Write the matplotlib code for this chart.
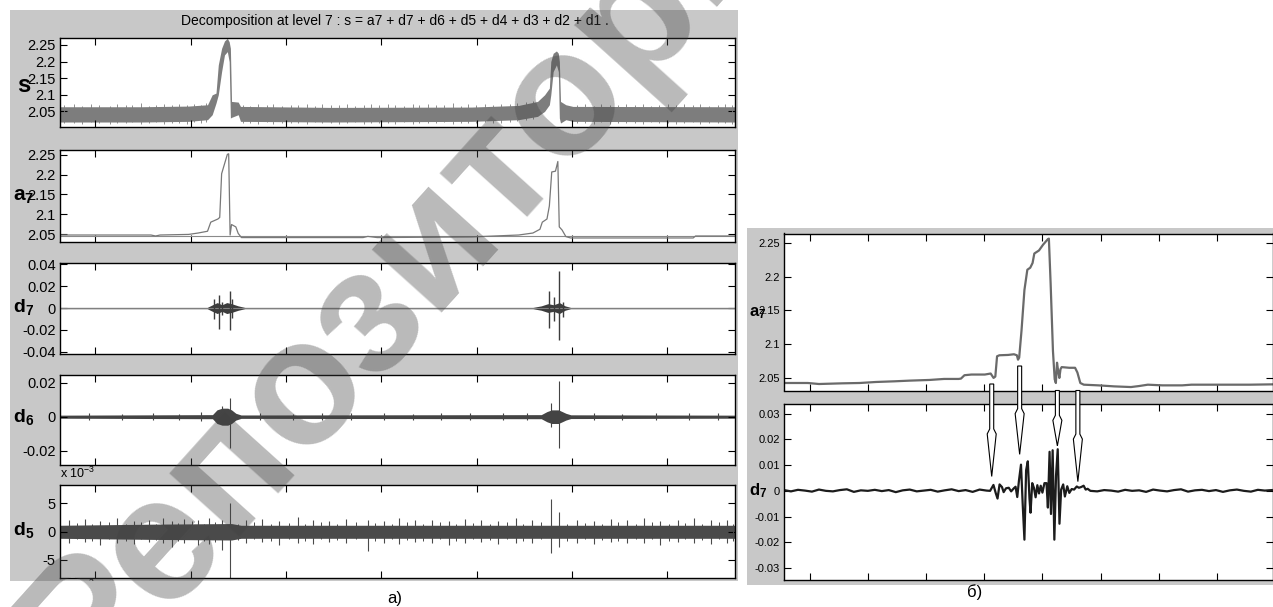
import matplotlib
matplotlib.use("Agg")
import matplotlib.pyplot as plt
import numpy as np
from matplotlib.patches import Rectangle, Polygon

W, H = 1273, 607
plt.rcParams['font.family'] = ['Liberation Sans Narrow', 'Liberation Sans', 'DejaVu Sans']
plt.rcParams['mathtext.fontset'] = 'custom'
plt.rcParams['mathtext.rm'] = 'Liberation Sans'
plt.rcParams['mathtext.bf'] = 'Liberation Sans:bold'
plt.rcParams['mathtext.it'] = 'Liberation Sans:italic'
plt.rcParams['mathtext.sf'] = 'Liberation Sans'

# ---------------- panel a) : level-7 decomposition (sample index) ----------------
title = "Decomposition at level 7 : s = a7 + d7 + d6 + d5 + d4 + d3 + d2 + d1 ."
left_xlim = (0, 7083)
left_xticks = [371, 1371, 2371, 3371, 4371, 5371, 6371]

# s : noisy signal drawn as its envelope band + isolated spikes
s_x = [0, 855, 1350, 1548, 1597, 1637, 1661, 1696, 1726, 1756, 1775, 1788, 1800, 1870, 1894,
       2834, 4319, 4813, 5011, 5085, 5135, 5150, 5175, 5209, 5229, 5240, 5252, 5308, 5382, 7083]
s_lo = [2.018, 2.018, 2.020, 2.025, 2.040, 2.075, 2.100, 2.170, 2.220, 2.230, 2.200, 2.030, 2.032, 2.040, 2.020,
        2.018, 2.020, 2.025, 2.035, 2.050, 2.070, 2.100, 2.170, 2.190, 2.170, 2.030, 2.015, 2.025, 2.020, 2.018]
s_hi = [2.064, 2.064, 2.066, 2.070, 2.100, 2.105, 2.190, 2.240, 2.262, 2.270, 2.260, 2.240, 2.080, 2.078, 2.065,
        2.062, 2.063, 2.068, 2.080, 2.100, 2.120, 2.200, 2.225, 2.232, 2.225, 2.200, 2.080, 2.070, 2.065, 2.064]
s_spk_x = [40, 150, 230, 330, 410, 520, 600, 690, 760, 850,
           930, 1010, 1090, 1180, 1250, 1330, 1410, 1480, 1530, 1920,
           1990, 2080, 2170, 2240, 2330, 2420, 2500, 2590, 2680, 2750,
           2840, 2930, 3010, 3100, 3190, 3260, 3350, 3440, 3520, 3610,
           3700, 3770, 3860, 3950, 4030, 4120, 4210, 4280, 4370, 4460,
           4540, 4630, 4720, 4800, 4890, 4960, 5420, 5510, 5600, 5680,
           5770, 5860, 5940, 6030, 6120, 6200, 6290, 6380, 6460, 6550,
           6640, 6720, 6810, 6900, 6980, 7050]
s_spk_hi = [2.068, 2.071, 2.067, 2.073, 2.069, 2.066, 2.072, 2.070, 2.068, 2.074,
            2.067, 2.070, 2.072, 2.069, 2.071, 2.068, 2.073, 2.070, 2.076, 2.069,
            2.067, 2.071, 2.068, 2.072, 2.066, 2.070, 2.069, 2.073, 2.067, 2.071,
            2.068, 2.070, 2.072, 2.066, 2.069, 2.071, 2.068, 2.073, 2.070, 2.067,
            2.072, 2.069, 2.071, 2.068, 2.070, 2.074, 2.067, 2.071, 2.069, 2.072,
            2.070, 2.073, 2.071, 2.075, 2.078, 2.082, 2.069, 2.071, 2.067, 2.072,
            2.070, 2.068, 2.073, 2.069, 2.071, 2.067, 2.070, 2.072, 2.068, 2.071,
            2.069, 2.073, 2.067, 2.070, 2.072, 2.068]
s_spk_lo = [2.014, 2.016, 2.013, 2.017, 2.015, 2.012, 2.016, 2.014, 2.017, 2.013,
            2.015, 2.017, 2.012, 2.016, 2.014, 2.013, 2.017, 2.015, 2.018, 2.014,
            2.016, 2.013, 2.017, 2.012, 2.015, 2.016, 2.014, 2.013, 2.017, 2.015,
            2.016, 2.012, 2.014, 2.017, 2.013, 2.015, 2.016, 2.014, 2.012, 2.017,
            2.013, 2.015, 2.016, 2.014, 2.017, 2.013, 2.015, 2.016, 2.014, 2.017,
            2.015, 2.016, 2.018, 2.020, 2.024, 2.028, 2.014, 2.016, 2.013, 2.017,
            2.012, 2.015, 2.016, 2.014, 2.013, 2.017, 2.015, 2.016, 2.012, 2.014,
            2.017, 2.013, 2.015, 2.016, 2.014, 2.013]

# a7 : approximation
a7_x = [0, 954, 1003, 1050, 1350, 1449, 1548, 1582, 1657, 1676,
        1696, 1721, 1756, 1770, 1785, 1800, 1845, 1870, 1904, 3180,
        3230, 3329, 4319, 4813, 4962, 5036, 5061, 5110, 5135, 5160,
        5199, 5224, 5239, 5269, 5308, 5358, 6644, 6669, 7083]
a7_y = [2.0475, 2.0475, 2.045, 2.0475, 2.049, 2.0525, 2.057, 2.080, 2.088, 2.092,
        2.2025, 2.223, 2.2515, 2.253, 2.0475, 2.074, 2.068, 2.0515, 2.041, 2.041,
        2.044, 2.041, 2.0426, 2.0475, 2.0525, 2.062, 2.080, 2.088, 2.121, 2.207,
        2.209, 2.2335, 2.068, 2.060, 2.0435, 2.040, 2.040, 2.045, 2.045]
a7_level = 2.046

# d7 : envelope amplitude + spikes
d7_env_x = [0, 1545, 1600, 1650, 1700, 1750, 1800, 1870, 1940, 4962, 5050, 5120, 5180, 5240, 5300, 5358, 7083]
d7_env_amp = [0.0006, 0.0006, 0.003, 0.005, 0.003, 0.005, 0.004, 0.002, 0.0006,
              0.0006, 0.002, 0.004, 0.003, 0.005, 0.002, 0.0006, 0.0006]
d7_spk_x = [1620, 1671, 1700, 1785, 1810, 5135, 5185, 5234, 5283]
d7_spk_hi = [0.008, 0.012, 0.006, 0.016, 0.008, 0.016, 0.010, 0.034, 0.006]
d7_spk_lo = [-0.010, -0.019, -0.006, -0.020, -0.009, -0.018, -0.012, -0.029, -0.008]

# d6
d6_env_x = [0, 1600, 1647, 1700, 1760, 1800, 1845, 1900, 5050, 5110, 5160, 5230, 5270, 5308, 5360, 7083]
d6_env_amp = [0.0009, 0.0012, 0.004, 0.005, 0.005, 0.004, 0.002, 0.001,
              0.0012, 0.003, 0.004, 0.004, 0.003, 0.002, 0.0011, 0.0009]
d6_spk_x = [300, 650, 980, 1250, 1480, 1696, 1785, 2100, 2450, 2750,
            3050, 3400, 3700, 4000, 4300, 4650, 4900, 5150, 5234, 5600,
            5900, 6250, 6600, 6900]
d6_spk_hi = [0.0020, 0.0018, 0.0022, 0.0017, 0.0025, 0.0060, 0.0110, 0.0021, 0.0018, 0.0022,
             0.0019, 0.0020, 0.0018, 0.0021, 0.0019, 0.0020, 0.0022, 0.0080, 0.0210, 0.0020,
             0.0018, 0.0021, 0.0019, 0.0020]
d6_spk_lo = [-0.0018, -0.0022, -0.0017, -0.0020, -0.0024, -0.0040, -0.0185, -0.0019, -0.0021, -0.0018,
             -0.0022, -0.0019, -0.0020, -0.0018, -0.0021, -0.0019, -0.0020, -0.0060, -0.0185, -0.0019,
             -0.0021, -0.0018, -0.0020, -0.0019]

# d5 (units of 1e-3)
d5_env_x = [0, 1000, 1800, 1900, 7083]
d5_env_hi = [1.1, 1.3, 1.4, 1.1, 1.1]
d5_env_lo = [-1.2, -1.4, -1.5, -1.2, -1.2]
d5_spk_x = [90, 260, 420, 600, 780, 930, 1080, 1177, 1300, 1450,
            1560, 1696, 1783, 1950, 2120, 2300, 2497, 2650, 2820, 3000,
            3229, 3400, 3560, 3720, 3900, 4080, 4250, 4420, 4600, 4780,
            4950, 5150, 5234, 5420, 5600, 5780, 5950, 6130, 6300, 6480,
            6650, 6830, 7000]
d5_spk_hi = [2.0, 2.2, 1.8, 2.3, 1.9, 2.1, 2.4, 1.9, 2.2, 2.0,
             2.3, 2.1, 5.0, 2.0, 2.2, 1.9, 2.6, 2.1, 1.8, 2.2,
             2.0, 1.9, 2.3, 2.0, 2.1, 1.8, 2.2, 2.0, 1.9, 2.3,
             2.0, 5.8, 3.4, 2.1, 1.9, 2.2, 2.0, 2.4, 1.9, 2.1,
             2.3, 2.0, 2.1]
d5_spk_lo = [-2.1, -1.9, -2.3, -2.0, -2.2, -1.8, -2.1, -2.8, -2.0, -2.4,
             -2.2, -3.2, -9.0, -2.1, -1.9, -2.3, -2.0, -2.2, -1.9, -2.1,
             -3.4, -2.0, -2.2, -1.9, -2.1, -2.3, -2.0, -1.8, -2.2, -2.0,
             -2.1, -3.8, -2.7, -2.0, -2.2, -1.9, -2.1, -2.0, -2.3, -1.9,
             -2.1, -2.2, -2.0]
d5_spk2_x = [175, 340, 510, 690, 855, 1005, 1240, 1380, 1510, 1630,
             1870, 2040, 2210, 2400, 2570, 2740, 2910, 3110, 3310, 3480,
             3640, 3810, 3990, 4160, 4330, 4510, 4690, 4860, 5050, 5320,
             5510, 5690, 5860, 6040, 6210, 6390, 6560, 6740, 6920, 7060]
d5_spk2_hi = [1.5, 1.3, 1.7, 1.4, 1.6, 1.3, 1.5, 1.8, 1.4, 1.7,
              1.3, 1.6, 1.4, 1.5, 1.3, 1.7, 1.4, 1.6, 1.5, 1.3,
              1.7, 1.4, 1.6, 1.3, 1.5, 1.4, 1.7, 1.3, 1.6, 1.4,
              1.5, 1.3, 1.6, 1.4, 1.7, 1.3, 1.5, 1.4, 1.6, 1.3]
d5_spk2_lo = [-1.4, -1.6, -1.3, -1.7, -1.4, -1.5, -1.7, -1.4, -1.6, -1.8,
              -1.5, -1.3, -1.6, -1.4, -1.7, -1.3, -1.5, -1.4, -1.6, -1.3,
              -1.5, -1.7, -1.4, -1.6, -1.3, -1.5, -1.4, -1.7, -1.4, -1.6,
              -1.3, -1.5, -1.7, -1.4, -1.3, -1.6, -1.4, -1.5, -1.3, -1.6]

# ---------------- panel б) : zoom on one pulse ----------------
right_xlim = (0, 840)
right_xticks = [44, 144, 244, 344, 444, 544, 644, 744]
ar_x = [0, 41, 60, 100, 130, 158, 190, 216, 250, 275,
        300, 304, 310, 322, 345, 355, 360, 363, 366, 370,
        385, 395, 400, 402, 404, 408, 413, 418, 423, 427,
        430, 438, 445, 453, 455, 458, 462, 465, 467, 469,
        471, 473, 475, 477, 490, 500, 504, 509, 515, 540,
        567, 596, 610, 625, 650, 684, 700, 742, 800, 840]
ar_y = [2.0425, 2.0425, 2.041, 2.042, 2.0425, 2.044, 2.045, 2.046, 2.047, 2.0485,
        2.0485, 2.049, 2.054, 2.055, 2.055, 2.0565, 2.050, 2.052, 2.082, 2.0835,
        2.084, 2.085, 2.0835, 2.077, 2.080, 2.120, 2.180, 2.210, 2.213, 2.220,
        2.234, 2.2385, 2.247, 2.255, 2.256, 2.190, 2.090, 2.048, 2.0425, 2.0725,
        2.060, 2.050, 2.063, 2.066, 2.065, 2.065, 2.058, 2.0425, 2.040, 2.039,
        2.0375, 2.0365, 2.038, 2.040, 2.039, 2.039, 2.040, 2.040, 2.040, 2.0405]
dr_x = [0, 12, 24, 36, 48, 60, 72, 84, 96, 108, 120, 132, 144, 156, 168, 180, 192, 204, 216, 228,
        240, 252, 264, 276, 288, 300, 312, 324, 336, 348,
        354, 359.8, 363.9, 366.8, 370.3, 374.4, 377.3, 381.4, 386.1, 390.2, 394.8, 397.8, 400.7, 403.6,
        407.1, 410, 413, 415.9, 418.8, 421.7, 423.5, 426.4, 429.3, 432.2, 435.2, 438.1, 441, 443.9,
        447.4, 450.9, 453.3, 456.2, 458.6, 461.5, 464.4, 467.3, 470.2, 473.2, 476.1, 479.6, 482.5,
        486.6, 490.1, 494.2, 498.3, 502.9, 506.5, 510.6, 514.7, 518.2, 521.6, 526.3,
        538, 550, 562, 574, 586, 598, 610, 622, 634, 646, 658, 670, 682, 694, 706, 718, 730, 742,
        754, 766, 778, 790, 802, 814, 826, 838]
dr_y_milli = [0.3, -0.2, 0.4, 0.1, -0.3, 0.5, 0.0, -0.2, 0.3, 0.6, -0.4, 0.2, 0.0, 0.4, -0.1, 0.3, -0.5, 0.2, 0.5, -0.2,
              0.1, 0.4, -0.3, 0.2, 0.6, -0.1, 0.3, -0.4, 0.5, 0.1,
              0.0, 2.3, -1.0, -3.0, 2.5, 1.5, -0.5, 1.0, 1.2, -0.2, 1.0, 1.6, -2.4, 4.0,
              10.2, -5.0, -19.0, 8.0, 11.5, -3.0, -8.5, 3.0, 1.2, -2.5, 2.2, -1.0, 2.0, -0.7,
              3.0, 3.0, -6.5, 15.2, -9.0, 15.8, -19.0, 6.0, 16.2, -12.8, 0.5, 2.5, -2.2,
              1.8, -0.8, 0.7, 0.5, 1.7, 1.2, 1.5, 2.0, 0.5, 0.8, 0.0,
              -0.2, 0.3, 0.1, -0.3, 0.4, 0.0, 0.2, -0.4, 0.5, 0.1, -0.2, 0.3, 0.6, -0.3, 0.2, 0.4, -0.1, 0.3,
              -0.4, 0.2, 0.5, 0.0, -0.3, 0.4, 0.1, 0.3]
# arrows from a7 features to d7 bursts
arrow_x = [356.8, 404.8, 469.6, 504.8]
arrow_top = [2.041, 2.0676, 2.0314, 2.0314]
arrow_shoulder = [0.0241, 0.032, 0.0294, 0.0221]
arrow_tip = [0.0056, 0.0142, 0.0175, 0.0036]

# ---------------- figure ----------------
fig = plt.figure(figsize=(W / 100, H / 100), dpi=100)
fig.patch.set_facecolor('white')


def fr(l, t, r, b):
    return [l / W, 1 - b / H, (r - l) / W, (b - t) / H]


def rect(l, t, r, b, color, z):
    fig.add_artist(Rectangle((l / W, 1 - b / H), (r - l) / W, (b - t) / H, transform=fig.transFigure,
                             facecolor=color, edgecolor='none', zorder=z))


rect(10, 10, 738, 581, '#c8c8c8', -5)
rect(747, 228, 1273, 585, '#c8c8c8', -5)


def style(ax, xlim, xticks, ylim, yticks, ylabels, fs):
    ax.set_xlim(*xlim)
    ax.set_ylim(*ylim)
    ax.set_xticks(xticks)
    ax.set_yticks(yticks)
    ax.set_yticklabels(ylabels)
    ax.tick_params(axis='both', direction='in', top=True, right=True, length=5, width=0.8,
                   labelsize=fs, pad=3, colors='black')
    ax.tick_params(axis='x', labelbottom=False)
    for sp in ax.spines.values():
        sp.set_linewidth(1.0)
    ax.set_facecolor('white')


FS = 10.5
ax_s = fig.add_axes(fr(60, 38, 735, 127))
ax_a = fig.add_axes(fr(60, 150, 735, 242))
ax_d7 = fig.add_axes(fr(60, 263, 735, 354))
ax_d6 = fig.add_axes(fr(60, 375, 735, 465))
ax_d5 = fig.add_axes(fr(60, 485, 735, 578))

lvl = [2.05, 2.1, 2.15, 2.2, 2.25]
lvl_lab = ['2.05', '2.1', '2.15', '2.2', '2.25']
style(ax_s, left_xlim, left_xticks, (2.003, 2.271), lvl, lvl_lab, FS)
style(ax_a, left_xlim, left_xticks, (2.0298, 2.2626), lvl, lvl_lab, FS)
style(ax_d7, left_xlim, left_xticks, (-0.042, 0.0412), [-0.04, -0.02, 0, 0.02, 0.04],
      ['-0.04', '-0.02', '0', '0.02', '0.04'], FS)
style(ax_d6, left_xlim, left_xticks, (-0.0284, 0.0245), [-0.02, 0, 0.02], ['-0.02', '0', '0.02'], FS)
style(ax_d5, left_xlim, left_xticks, (-8.2, 8.2), [-5, 0, 5], ['-5', '0', '5'], FS)

# s
ax_s.fill_between(s_x, s_lo, s_hi, color='#7d7d7d', lw=0)
ax_s.vlines(s_spk_x, s_spk_lo, s_spk_hi, color='#7d7d7d', lw=0.6)
# a7
ax_a.axhline(a7_level, color='#8a8a8a', lw=0.8)
ax_a.plot(a7_x, a7_y, color='#787878', lw=0.9)
# d7
amp7 = np.array(d7_env_amp)
ax_d7.axhline(0, color='#808080', lw=0.8)
ax_d7.fill_between(d7_env_x, -amp7, amp7, color='#3c3c3c', lw=0)
ax_d7.vlines(d7_spk_x, d7_spk_lo, d7_spk_hi, color='#3c3c3c', lw=1.0)
# d6
amp6 = np.array(d6_env_amp)
ax_d6.fill_between(d6_env_x, -amp6, amp6, color='#444444', lw=0)
ax_d6.vlines(d6_spk_x, d6_spk_lo, d6_spk_hi, color='#444444', lw=0.8)
# d5
ax_d5.fill_between(d5_env_x, d5_env_lo, d5_env_hi, color='#4a4a4a', lw=0)
ax_d5.vlines(d5_spk_x, d5_spk_lo, d5_spk_hi, color='#4a4a4a', lw=0.8)
ax_d5.vlines(d5_spk2_x, d5_spk2_lo, d5_spk2_hi, color='#4a4a4a', lw=0.7)

# right panel
ax_ar = fig.add_axes(fr(784, 233.5, 1273, 390.5))
ax_dr = fig.add_axes(fr(784, 403.5, 1273, 580))
style(ax_ar, right_xlim, right_xticks, (2.0314, 2.2636), lvl, lvl_lab, 8)
style(ax_dr, right_xlim, right_xticks, (-0.0347, 0.034),
      [-0.03, -0.02, -0.01, 0, 0.01, 0.02, 0.03],
      ['-0.03', '-0.02', '-0.01', '0', '0.01', '0.02', '0.03'], 8)
ax_ar.plot(ar_x, ar_y, color='#6a6a6a', lw=1.6)
ax_dr.plot(dr_x, np.array(dr_y_milli) * 1e-3, color='#1c1c1c', lw=1.6)

# texts
fig.text(395 / W, 1 - 21 / H, title, ha='center', va='center', fontsize=10)
fig.text(395 / W, 1 - 598 / H, 'a)', ha='center', va='center', fontsize=12, zorder=6)
fig.text(975 / W, 1 - 592 / H, 'б)', ha='center', va='center', fontsize=12, zorder=6)

ylabs = [(r'$\mathbf{s}$', 17, 92, 17), (r'$\mathbf{a}_{\mathbf{7}}$', 13, 201, 15),
         (r'$\mathbf{d}_{\mathbf{7}}$', 13, 312, 14), (r'$\mathbf{d}_{\mathbf{6}}$', 13, 422, 14),
         (r'$\mathbf{d}_{\mathbf{5}}$', 13, 535, 14),
         (r'$\mathbf{a}_{\mathbf{7}}$', 749, 316, 12), (r'$\mathbf{d}_{\mathbf{7}}$', 749, 495, 12)]
for txt, xp, yp, fs in ylabs:
    fig.text(xp / W, 1 - yp / H, txt, ha='left', va='baseline', fontsize=fs, zorder=4)

fig.text(60 / W, 1 - 478 / H, r'x 10$^{-3}$', ha='left', va='baseline', fontsize=9, zorder=-1)
fig.text(60 / W, 1 - 591 / H, r'x 10$^{-3}$', ha='left', va='baseline', fontsize=9, zorder=2)
rect(0, 581, 742, 607, 'white', 3)

# arrows (built from data positions of both right-hand axes)
inv = fig.transFigure.inverted()
for xa, ta, sa, pa in zip(arrow_x, arrow_top, arrow_shoulder, arrow_tip):
    cx, yt = ax_ar.transData.transform((xa, ta))
    _, ys = ax_dr.transData.transform((xa, sa))
    _, yp = ax_dr.transData.transform((xa, pa))
    pts = [(cx - 2, yt), (cx + 2, yt), (cx + 2, ys), (cx + 4.5, ys - 5), (cx, yp),
           (cx - 4.5, ys - 5), (cx - 2, ys)]
    pts = inv.transform(pts)
    fig.add_artist(Polygon(pts, closed=True, transform=fig.transFigure, facecolor='white',
                           edgecolor='black', lw=0.8, zorder=8))

# watermark
fig.text(86 / W, 1 - 695 / H, 'Репозиторий', rotation=48, rotation_mode='anchor', ha='left',
         va='baseline', fontsize=128, fontweight='bold', family=['Liberation Sans', 'DejaVu Sans'],
         color='#404040', alpha=0.36, zorder=20)

fig.savefig('out.png', dpi=100)
